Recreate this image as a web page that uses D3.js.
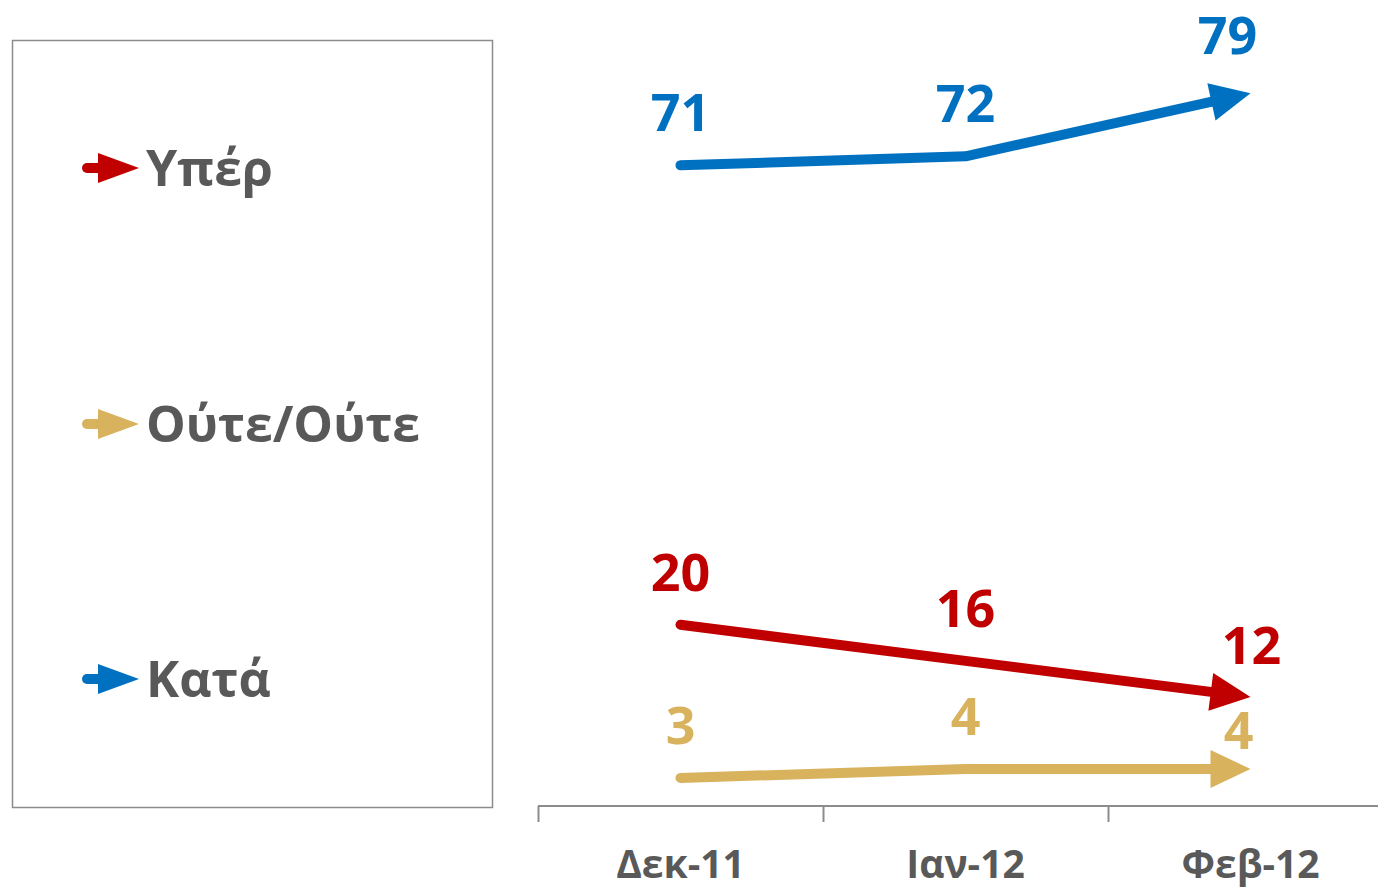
<!DOCTYPE html>
<html><head><meta charset="utf-8">
<script src="https://cdn.jsdelivr.net/npm/d3@7"></script>
<style>body{margin:0;background:#fff}svg{display:block}</style>
</head><body>
<svg id="c" width="1378" height="890"></svg>
<script>
const categories = ["Δεκ-11", "Ιαν-12", "Φεβ-12"];
const seriesNames = ["Υπέρ", "Ούτε/Ούτε", "Κατά"];
const yper = [20, 16, 12];
const oute = [3, 4, 4];
const kata = [71, 72, 79];
const colors = ["#C00000", "#D8B25C", "#0070C0"];

// label placement tweaks (style only)
const labelDx = [[0, 0, 1], [0, 0, -12], [0, 0, -23]];
const labelDy = [[34, 34, 33], [34, 34, 20], [34, 34, 39]];

const series = [
  {name: seriesNames[0], values: yper, color: colors[0]},
  {name: seriesNames[1], values: oute, color: colors[1]},
  {name: seriesNames[2], values: kata, color: colors[2]}
];

const svg = d3.select("#c");
const font = "'Open Sans', 'Noto Sans', sans-serif";
const x = d3.scaleBand().domain(categories).range([538, 1393]);
const y = d3.scaleLinear().domain([0, 100]).range([805, -96]);
const cx = d => x(d) + x.bandwidth() / 2;

// legend box
svg.append("rect").attr("x", 12.5).attr("y", 40.5).attr("width", 480).attr("height", 767)
  .attr("fill", "none").attr("stroke", "#8c8c8c").attr("stroke-width", 1.5);

const legY = [168, 424, 679];
series.forEach((s, i) => {
  const g = svg.append("g");
  g.append("line").attr("x1", 87).attr("x2", 104).attr("y1", legY[i]).attr("y2", legY[i])
    .attr("stroke", s.color).attr("stroke-width", 10).attr("stroke-linecap", "round");
  g.append("path").attr("d", `M98,${legY[i]-15} L139,${legY[i]} L98,${legY[i]+15} Z`).attr("fill", s.color);
  g.append("text").attr("x", 146).attr("y", legY[i]).attr("dy", "0.36em")
    .attr("font-family", font).attr("font-weight", 700).attr("font-size", 50)
    .attr("fill", "#595959").text(s.name);
});

// axis
const axisY = 806;
svg.append("line").attr("x1", 538).attr("x2", 1378).attr("y1", axisY).attr("y2", axisY)
  .attr("stroke", "#8c8c8c").attr("stroke-width", 2);
const tickPos = categories.map(c => x(c));
svg.selectAll(".tick").data(tickPos).enter().append("line")
  .attr("x1", d => d + 0.5).attr("x2", d => d + 0.5).attr("y1", axisY).attr("y2", axisY + 16)
  .attr("stroke", "#8c8c8c").attr("stroke-width", 2);
svg.selectAll(".xl").data(categories).enter().append("text")
  .attr("x", d => cx(d)).attr("y", 878).attr("text-anchor", "middle")
  .attr("font-family", font).attr("font-weight", 700).attr("font-size", 39)
  .attr("fill", "#595959").text(d => d);

// lines with arrows
const arrowLen = 40, arrowHalf = 19;
series.forEach((s, si) => {
  const pts = s.values.map((v, i) => [cx(categories[i]), y(v)]);
  const n = pts.length;
  const [x1, y1] = pts[n - 2], [x2, y2] = pts[n - 1];
  const ang = Math.atan2(y2 - y1, x2 - x1);
  const ux = Math.cos(ang), uy = Math.sin(ang);
  const bx = x2 - ux * arrowLen, by = y2 - uy * arrowLen;
  const linePts = pts.slice(0, n - 1).concat([[bx + ux * 4, by + uy * 4]]);
  svg.append("path").attr("d", d3.line()(linePts)).attr("fill", "none")
    .attr("stroke", s.color).attr("stroke-width", 10)
    .attr("stroke-linecap", "round").attr("stroke-linejoin", "round");
  const px = -uy, py = ux;
  svg.append("path")
    .attr("d", `M${x2},${y2} L${bx + px * arrowHalf},${by + py * arrowHalf} L${bx - px * arrowHalf},${by - py * arrowHalf} Z`)
    .attr("fill", s.color);
  svg.selectAll(null).data(s.values).enter().append("text")
    .attr("x", (d, i) => cx(categories[i]) + labelDx[si][i])
    .attr("y", (d, i) => y(d) - labelDy[si][i])
    .attr("text-anchor", "middle")
    .attr("font-family", font).attr("font-weight", 700).attr("font-size", 52)
    .attr("fill", s.color).text(d => d);
});
</script>
</body></html>
